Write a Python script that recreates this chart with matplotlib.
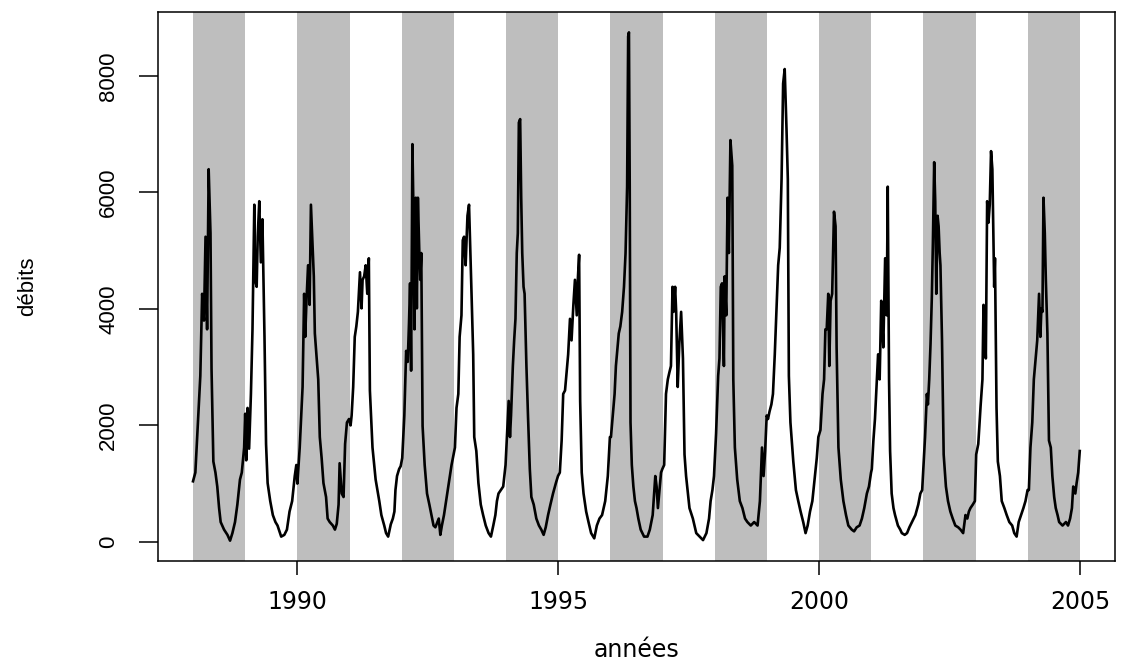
import matplotlib
matplotlib.use("Agg")
import matplotlib.pyplot as plt

# daily flows, read per year as (fraction of the year, debit)
q1988 = [(0.00, 1040), (0.045, 1190), (0.08, 1800), (0.11, 2360), (0.14, 2850), (0.175, 4260),
         (0.21, 3800), (0.24, 5240), (0.27, 3650), (0.30, 6400), (0.335, 5300), (0.355, 2970),
         (0.39, 1380), (0.43, 1190), (0.465, 950), (0.50, 580), (0.53, 340), (0.595, 210),
         (0.66, 120), (0.71, 20), (0.755, 150), (0.805, 340), (0.85, 640), (0.90, 1070),
         (0.935, 1190), (0.98, 1620)]
q1989 = [(0.00, 2200), (0.02, 1400), (0.045, 2300), (0.075, 1600), (0.11, 2540), (0.14, 3650),
         (0.175, 5790), (0.19, 4500), (0.22, 4380), (0.24, 5240), (0.27, 5850), (0.30, 4800),
         (0.33, 5540), (0.37, 3520), (0.40, 1680), (0.43, 1010), (0.48, 700), (0.53, 460),
         (0.58, 340), (0.62, 280), (0.69, 90), (0.75, 120), (0.80, 210), (0.85, 520),
         (0.90, 700), (0.95, 1130), (0.98, 1320)]
q1990 = [(0.00, 1000), (0.045, 1620), (0.10, 2660), (0.13, 4260), (0.15, 3520), (0.175, 4140),
         (0.205, 4750), (0.235, 4070), (0.26, 5790), (0.285, 5240), (0.315, 4560), (0.335, 3580),
         (0.37, 3150), (0.40, 2790), (0.43, 1800), (0.465, 1440), (0.50, 1010), (0.55, 770),
         (0.58, 400), (0.62, 340), (0.68, 280), (0.72, 210), (0.755, 310), (0.79, 640),
         (0.81, 1350), (0.85, 830), (0.885, 770), (0.915, 1680), (0.95, 2050), (0.99, 2110)]
q1991 = [(0.02, 2000), (0.04, 2170), (0.07, 2660), (0.10, 3520), (0.13, 3700), (0.16, 3950),
         (0.20, 4630), (0.23, 4010), (0.25, 4500), (0.28, 4560), (0.31, 4750), (0.34, 4260),
         (0.37, 4870), (0.39, 2600), (0.44, 1620), (0.50, 1070), (0.57, 700), (0.61, 460),
         (0.665, 280), (0.70, 150), (0.74, 90), (0.79, 300), (0.83, 400), (0.86, 520),
         (0.88, 890), (0.91, 1130), (0.95, 1250), (0.98, 1300)]
q1992 = [(0.01, 1440), (0.05, 2170), (0.085, 3280), (0.115, 3090), (0.14, 3770), (0.16, 4440),
         (0.18, 2940), (0.205, 6830), (0.225, 5670), (0.245, 3650), (0.27, 5910), (0.29, 4010),
         (0.31, 5910), (0.335, 5050), (0.355, 4500), (0.375, 4960), (0.40, 1990), (0.44, 1320),
         (0.485, 830), (0.53, 640), (0.57, 460), (0.61, 280), (0.645, 250), (0.71, 400),
         (0.74, 120), (0.77, 280), (0.81, 460), (0.85, 700), (0.89, 950), (0.92, 1130),
         (0.955, 1320)]
q1993 = [(0.02, 1620), (0.05, 2300), (0.085, 2540), (0.11, 3520), (0.145, 3890), (0.17, 5180),
         (0.195, 5240), (0.225, 4750), (0.26, 5600), (0.29, 5790), (0.315, 4960), (0.34, 4200),
         (0.37, 3220), (0.39, 1800), (0.43, 1560), (0.47, 1010), (0.515, 640), (0.56, 460),
         (0.61, 280), (0.665, 150), (0.71, 90), (0.755, 280), (0.795, 460), (0.825, 700),
         (0.855, 830), (0.90, 890), (0.945, 950), (0.99, 1320)]
q1994 = [(0.01, 1680), (0.05, 2420), (0.075, 1800), (0.095, 2170), (0.13, 3020), (0.155, 3460),
         (0.18, 3830), (0.205, 4960), (0.225, 5300), (0.245, 7200), (0.27, 7260), (0.29, 5910),
         (0.31, 4960), (0.335, 4380), (0.355, 4260), (0.39, 3020), (0.42, 2170), (0.455, 1250),
         (0.485, 770), (0.53, 640), (0.58, 400), (0.63, 280), (0.675, 210), (0.72, 120),
         (0.76, 250), (0.805, 460), (0.85, 640), (0.90, 830), (0.955, 1010), (0.995, 1130)]
q1995 = [(0.03, 1190), (0.065, 1740), (0.095, 2540), (0.13, 2600), (0.16, 2910), (0.19, 3220),
         (0.225, 3830), (0.255, 3460), (0.29, 4070), (0.32, 4500), (0.355, 3890), (0.375, 4500),
         (0.40, 4930), (0.42, 2420), (0.45, 1190), (0.485, 830), (0.535, 520), (0.58, 340),
         (0.63, 150), (0.69, 60), (0.74, 280), (0.79, 400), (0.84, 460), (0.87, 580),
         (0.90, 700), (0.95, 1130), (0.99, 1800)]
q1996 = [(0.01, 1800), (0.045, 2170), (0.08, 2540), (0.105, 3020), (0.13, 3280), (0.16, 3580),
         (0.19, 3700), (0.225, 3950), (0.26, 4380), (0.29, 4960), (0.32, 6100), (0.34, 8680),
         (0.355, 8750), (0.37, 6100), (0.385, 2050), (0.41, 1320), (0.44, 950), (0.47, 700),
         (0.50, 580), (0.535, 400), (0.58, 210), (0.645, 90), (0.71, 90), (0.755, 210),
         (0.81, 460), (0.86, 1130), (0.885, 950), (0.91, 580), (0.935, 830), (0.97, 1190),
         (0.995, 1250)]
q1997 = [(0.03, 1320), (0.065, 2540), (0.10, 2790), (0.13, 2910), (0.16, 3020), (0.19, 4380),
         (0.21, 3950), (0.24, 4380), (0.26, 3950), (0.29, 2660), (0.32, 3400), (0.355, 3950),
         (0.39, 3150), (0.42, 1500), (0.45, 1130), (0.485, 830), (0.515, 580), (0.58, 400),
         (0.645, 150), (0.71, 90), (0.775, 30), (0.84, 150), (0.89, 400), (0.92, 700),
         (0.955, 890), (0.985, 1130)]
q1998 = [(0.025, 1860), (0.065, 2850), (0.09, 3150), (0.115, 4380), (0.14, 4440), (0.175, 3020),
         (0.19, 4560), (0.22, 3890), (0.245, 5910), (0.27, 4960), (0.30, 6900), (0.335, 6460),
         (0.355, 2790), (0.385, 1620), (0.43, 1070), (0.48, 700), (0.53, 580), (0.58, 400),
         (0.625, 340), (0.69, 280), (0.755, 340), (0.82, 280), (0.865, 700), (0.905, 1620),
         (0.935, 1130), (0.965, 1560), (0.995, 2170)]
q1999 = [(0.02, 2110), (0.05, 2240), (0.085, 2360), (0.115, 2540), (0.15, 3220), (0.18, 3950),
         (0.215, 4750), (0.245, 5050), (0.28, 6230), (0.31, 7870), (0.34, 8120), (0.375, 7080),
         (0.40, 6230), (0.42, 2850), (0.45, 2050), (0.505, 1380), (0.555, 890), (0.60, 700),
         (0.645, 520), (0.695, 340), (0.74, 150), (0.78, 280), (0.825, 520), (0.87, 700),
         (0.92, 1130), (0.955, 1440), (0.985, 1800)]
q2000 = [(0.025, 1920), (0.065, 2540), (0.095, 2790), (0.12, 3650), (0.145, 3650), (0.175, 4260),
         (0.195, 3020), (0.22, 4140), (0.25, 4260), (0.285, 5670), (0.315, 5420), (0.335, 3340),
         (0.37, 1620), (0.415, 1070), (0.465, 700), (0.515, 460), (0.56, 280), (0.625, 210),
         (0.67, 180), (0.72, 250), (0.775, 280), (0.82, 400), (0.865, 580), (0.915, 830),
         (0.955, 950), (0.995, 1190)]
q2001 = [(0.01, 1250), (0.04, 1740), (0.07, 2110), (0.10, 2660), (0.13, 3220), (0.16, 2790),
         (0.17, 3220), (0.19, 4140), (0.21, 3770), (0.23, 3340), (0.265, 4870), (0.295, 3890),
         (0.315, 6100), (0.34, 2790), (0.36, 1560), (0.39, 830), (0.425, 580), (0.455, 460),
         (0.51, 280), (0.555, 210), (0.585, 150), (0.64, 120), (0.685, 150), (0.73, 250),
         (0.78, 340), (0.845, 460), (0.90, 640), (0.94, 830), (0.975, 890)]
q2002 = [(0.00, 1320), (0.03, 1800), (0.065, 2540), (0.085, 2360), (0.11, 2790), (0.135, 3400),
         (0.16, 4200), (0.18, 5120), (0.205, 6520), (0.225, 5850), (0.245, 4260), (0.27, 5600),
         (0.29, 5420), (0.31, 4960), (0.325, 4750), (0.355, 3460), (0.387, 1500), (0.43, 950),
         (0.47, 700), (0.515, 520), (0.56, 400), (0.61, 280), (0.665, 250), (0.71, 210),
         (0.76, 150), (0.805, 460), (0.84, 400), (0.87, 520), (0.90, 580), (0.945, 640),
         (0.985, 700)]
q2003 = [(0.01, 1500), (0.05, 1680), (0.095, 2340), (0.13, 2790), (0.15, 4070), (0.175, 3770),
         (0.195, 3150), (0.22, 5850), (0.245, 5480), (0.27, 5790), (0.295, 6710), (0.32, 6400),
         (0.355, 4380), (0.37, 4870), (0.40, 2300), (0.425, 1380), (0.465, 1130), (0.50, 700),
         (0.55, 580), (0.595, 460), (0.645, 340), (0.70, 280), (0.74, 150), (0.785, 90),
         (0.825, 340), (0.87, 460), (0.915, 580), (0.955, 700), (0.995, 890)]
q2004 = [(0.02, 890), (0.05, 1620), (0.085, 2050), (0.115, 2790), (0.15, 3150), (0.18, 3460),
         (0.215, 4260), (0.24, 3520), (0.26, 4010), (0.28, 3950), (0.30, 5910), (0.325, 5300),
         (0.345, 4500), (0.375, 3580), (0.405, 1740), (0.44, 1620), (0.47, 1130), (0.505, 770),
         (0.535, 580), (0.57, 460), (0.60, 340), (0.665, 280), (0.73, 340), (0.77, 280),
         (0.81, 400), (0.845, 580), (0.87, 950), (0.91, 830), (0.935, 1010), (0.965, 1190),
         (0.995, 1560)]

series = [q1988, q1989, q1990, q1991, q1992, q1993, q1994, q1995, q1996,
          q1997, q1998, q1999, q2000, q2001, q2002, q2003, q2004]
first_year = 1988
last_year = 2005

t = []
q = []
for k, pts in enumerate(series):
    for frac, v in pts:
        t.append(first_year + k + frac)
        q.append(v)


def padded(lo, hi):
    # same 4% extension as R's default axis range
    d = 0.04 * (hi - lo)
    return lo - d, hi + d


fig = plt.figure(figsize=(11.22, 6.64), dpi=100)
ax = fig.add_axes([0.1404, 0.1551, 0.8538, 0.8268])

# shade every other year
for yr in range(first_year, last_year, 2):
    ax.axvspan(yr, yr + 1, color="#bebebe", lw=0, zorder=0)

ax.plot(t, q, color="black", lw=1.9, zorder=2)

ax.set_xlim(*padded(first_year, last_year))
ax.set_ylim(*padded(min(q), max(q)))

ax.set_xticks([1990, 1995, 2000, 2005])
ax.set_yticks([0, 2000, 4000, 6000, 8000])
ax.tick_params(axis="x", length=10, width=1.1, pad=11, labelsize=17)
ax.tick_params(axis="y", length=13.7, width=1.1, pad=14, labelsize=16)
for lab in ax.get_yticklabels():
    lab.set_rotation(90)
    lab.set_va("center")
    lab.set_family("Liberation Sans")

for sp in ax.spines.values():
    sp.set_linewidth(1.1)

ax.set_xlabel("années", fontsize=17)
ax.xaxis.set_label_coords(0.5, -0.162)
ax.xaxis.label.set_va("center")
ax.set_ylabel("débits", fontsize=16, family="Liberation Sans")
ax.yaxis.set_label_coords(-0.136, 0.5)
ax.yaxis.label.set_va("center")

fig.savefig("out.png", dpi=100)
